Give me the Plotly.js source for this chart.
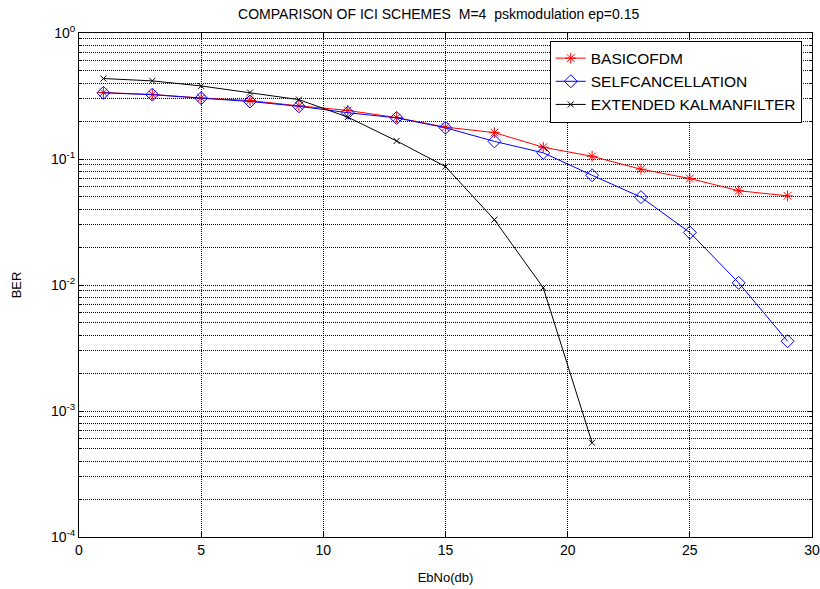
<!DOCTYPE html>
<html>
<head>
<meta charset="utf-8">
<script src="https://cdn.plot.ly/plotly-3.0.1.min.js"></script>
<style>html,body{margin:0;padding:0;background:#fff;}#chart{width:820px;height:589px;}</style>
</head>
<body>
<div id="chart"></div>
<script>
var ebno = [1, 3, 5, 7, 9, 11, 13, 15, 17, 19, 21, 23, 25, 27, 29];
var basicOfdm = [0.337, 0.325, 0.305, 0.291, 0.264, 0.243, 0.213, 0.179, 0.162, 0.124, 0.105, 0.083, 0.070, 0.056, 0.051];
var selfCancel = [0.335, 0.324, 0.304, 0.286, 0.262, 0.233, 0.212, 0.177, 0.138, 0.112, 0.0743, 0.0498, 0.0261, 0.0104, 0.00358];
var ekfX = [1, 3, 5, 7, 9, 11, 13, 15, 17, 19, 21];
var ekf = [0.435, 0.417, 0.380, 0.337, 0.296, 0.215, 0.139, 0.087, 0.0330, 0.00952, 0.00056];
var xTicks = [0, 5, 10, 15, 20, 25, 30];
var decades = [-4, -3, -2, -1, 0];

var yTickVals = decades.map(function (d) { return Math.pow(10, d); });
var yTickText = decades.map(function (d) { return '10<sup>' + d + '</sup>'; });
var yMinorVals = [];
decades.forEach(function (d) {
  if (d === 0) return;
  for (var m = 2; m <= 9; m++) yMinorVals.push(m * Math.pow(10, d));
});

var traces = [
  {x: ebno, y: basicOfdm, name: 'BASICOFDM', mode: 'lines+markers', type: 'scatter',
   line: {color: '#ff0000', width: 1},
   marker: {symbol: 'asterisk-open', size: 9, color: '#ff0000', line: {color: '#ff0000', width: 1}}},
  {x: ebno, y: selfCancel, name: 'SELFCANCELLATION', mode: 'lines+markers', type: 'scatter',
   line: {color: '#0000ff', width: 1},
   marker: {symbol: 'diamond-open', size: 10, color: '#0000ff', line: {color: '#0000ff', width: 1}}},
  {x: ekfX, y: ekf, name: 'EXTENDED KALMANFILTER', mode: 'lines+markers', type: 'scatter',
   line: {color: '#000000', width: 1},
   marker: {symbol: 'x-thin-open', size: 6, color: '#000000', line: {color: '#000000', width: 1}}}
];

var layout = {
  width: 820, height: 589,
  margin: {l: 79, r: 8, t: 33, b: 52},
  paper_bgcolor: '#fff', plot_bgcolor: '#fff',
  font: {family: 'Liberation Sans, Arial, sans-serif', size: 14, color: '#000'},
  title: {text: 'COMPARISON OF ICI SCHEMES  M=4  pskmodulation ep=0.15',
          font: {size: 14, color: '#000'}, x: 0.535, xanchor: 'center', y: 0.976, yanchor: 'middle'},
  showlegend: true,
  legend: {x: 0.986, y: 0.985, xanchor: 'right', yanchor: 'top',
           bgcolor: '#fff', bordercolor: '#000', borderwidth: 1,
           font: {size: 15.5, color: '#000'}, tracegroupgap: 0, itemwidth: 30},
  xaxis: {
    range: [0, 30], tickvals: xTicks, ticktext: xTicks.map(String),
    tickfont: {size: 14},
    ticks: 'inside', ticklen: 5, tickcolor: '#000', mirror: 'ticks',
    showline: true, linecolor: '#000', linewidth: 1,
    showgrid: true, gridcolor: '#000', griddash: '1px,1px', gridwidth: 1,
    zeroline: false,
    title: {text: 'EbNo(db)', font: {size: 13}, standoff: 16}
  },
  yaxis: {
    type: 'log', range: [-4, 0],
    tickvals: yTickVals, ticktext: yTickText,
    tickfont: {size: 14},
    ticks: 'inside', ticklen: 5, tickcolor: '#000', mirror: 'ticks',
    showline: true, linecolor: '#000', linewidth: 1,
    showgrid: true, gridcolor: '#000', griddash: '1px,1px', gridwidth: 1,
    minor: {tickmode: 'array', tickvals: yMinorVals, ticks: 'inside', ticklen: 3, tickcolor: '#000',
            showgrid: true, gridcolor: '#000', griddash: '1px,1px', gridwidth: 1},
    zeroline: false,
    title: {text: 'BER', font: {size: 13}, standoff: 26}
  }
};

Plotly.newPlot('chart', traces, layout, {displayModeBar: false, staticPlot: true});
</script>
</body>
</html>
